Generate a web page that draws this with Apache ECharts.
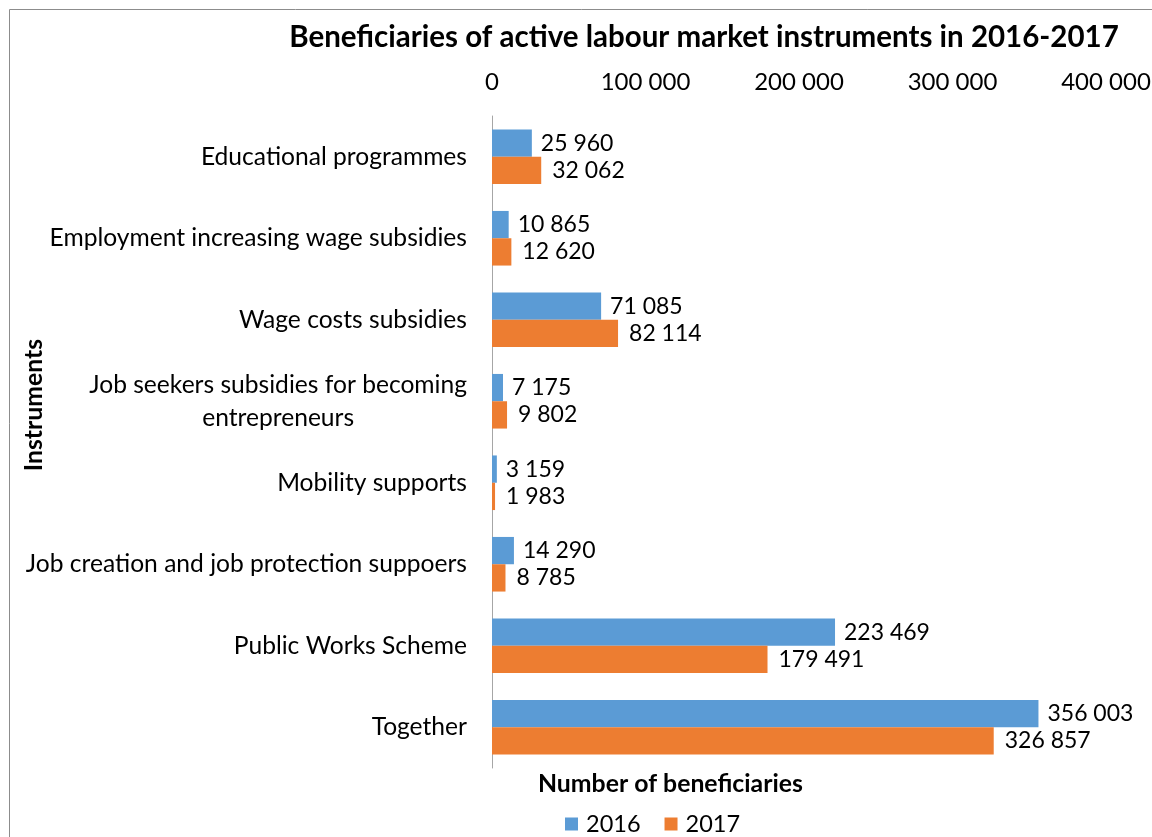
<!DOCTYPE html>
<html>
<head>
<meta charset="utf-8">
<script src="https://cdn.jsdelivr.net/npm/echarts@6/dist/echarts.min.js"></script>
<style>
  html, body { margin: 0; padding: 0; background: #fff; }
  #chart { width: 1152px; height: 837px; }
</style>
</head>
<body>
<div id="chart"></div>
<script>
// Instruments, listed top to bottom
const categories = [
  'Educational programmes',
  'Employment increasing wage subsidies',
  'Wage costs subsidies',
  'Job seekers subsidies for becoming\nentrepreneurs',
  'Mobility supports',
  'Job creation and job protection suppoers',
  'Public Works Scheme',
  'Together'
];
const values2016 = [25960, 10865, 71085, 7175, 3159, 14290, 223469, 356003];
const values2017 = [32062, 12620, 82114, 9802, 1983, 8785, 179491, 326857];
const xTicks = [0, 100000, 200000, 300000, 400000];

const FONT = 'Lato, "Open Sans", sans-serif';
const fmt = v => String(v).replace(/\B(?=(\d{3})+(?!\d))/g, ' ');

const chart = echarts.init(document.getElementById('chart'));
chart.setOption({
  backgroundColor: '#fff',
  animation: false,
  textStyle: { fontFamily: FONT },
  title: {
    text: 'Beneficiaries of active labour market instruments in 2016-2017',
    left: 699, top: 17, textAlign: 'center',
    textStyle: { fontFamily: FONT, fontSize: 29.5, fontWeight: 'bold', color: '#000' }
  },
  legend: {
    top: 807, left: 560,
    itemWidth: 13, itemHeight: 13, itemGap: 24,
    icon: 'rect',
    textStyle: { fontFamily: FONT, fontSize: 23.5, color: '#000', padding: [0, 0, 0, 3] },
    data: ['2016', '2017']
  },
  grid: { left: 492, right: 46, top: 116, bottom: 69, containLabel: false, outerBoundsMode: 'none' },
  xAxis: {
    type: 'value',
    position: 'top',
    min: xTicks[0], max: xTicks[xTicks.length - 1], interval: xTicks[1] - xTicks[0],
    axisLine: { show: false }, axisTick: { show: false }, splitLine: { show: false },
    axisLabel: { margin: 22, fontFamily: FONT, fontSize: 24, color: '#000', formatter: v => fmt(v) }
  },
  yAxis: {
    type: 'category',
    inverse: true,
    data: categories,
    axisLine: { show: true, lineStyle: { color: '#a6a6a6', width: 1 } },
    axisTick: { show: false },
    axisLabel: {
      margin: 25, fontFamily: FONT, fontSize: 24.6, color: '#000', lineHeight: 33,
      formatter: v => v.indexOf('\n') >= 0
        ? v.split('\n').map(s => '{c|' + s + '}').join('\n')
        : v,
      rich: { c: { align: 'center', fontFamily: FONT, fontSize: 24.6, color: '#000', lineHeight: 33 } }
    }
  },
  graphic: [
    {
      type: 'rect', silent: true,
      shape: { x: 9.5, y: 9.5, width: 1200, height: 900 },
      style: { fill: 'none', stroke: '#8c8c8c', lineWidth: 1 }
    },
    {
      // y-axis title, rotated to read bottom-up
      type: 'text', x: 34, y: 405, rotation: Math.PI / 2,
      style: {
        text: 'Instruments', fontFamily: FONT, fontSize: 24.8, fontWeight: 'bold', fill: '#000',
        align: 'center', verticalAlign: 'middle'
      }
    },
    {
      // x-axis title, placed under the plot
      type: 'text', left: 538, top: 772,
      style: { text: 'Number of beneficiaries', fontFamily: FONT, fontSize: 24.8, fontWeight: 'bold', fill: '#000' }
    }
  ],
  series: [
    {
      name: '2016', type: 'bar', data: values2016,
      barGap: '0%', barCategoryGap: '33%',
      itemStyle: { color: '#5B9BD5' },
      label: { show: true, position: 'right', distance: 9, fontFamily: FONT, fontSize: 23, color: '#000', formatter: p => fmt(p.value) }
    },
    {
      name: '2017', type: 'bar', data: values2017,
      barGap: '0%', barCategoryGap: '33%',
      itemStyle: { color: '#ED7D31' },
      label: { show: true, position: 'right', distance: 11, fontFamily: FONT, fontSize: 23, color: '#000', formatter: p => fmt(p.value) }
    }
  ]
});
</script>
</body>
</html>
